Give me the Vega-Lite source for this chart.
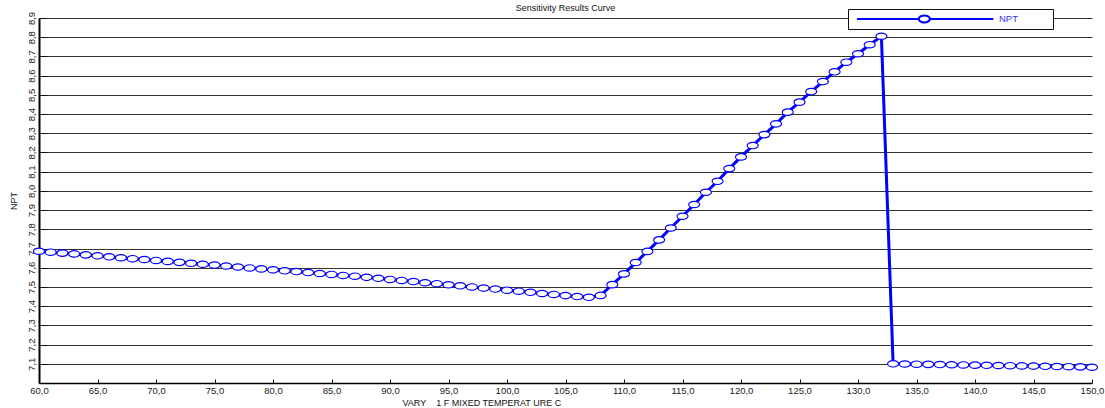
{
  "$schema": "https://vega.github.io/schema/vega-lite/v6.json",
  "width": 1053,
  "height": 365,
  "autosize": {"type": "none"},
  "padding": {"left": 39, "top": 18, "right": 13, "bottom": 25},
  "background": "white",
  "title": {
    "text": "Sensitivity Results Curve",
    "fontSize": 9,
    "fontWeight": "normal",
    "font": "Liberation Sans",
    "color": "#111",
    "anchor": "middle",
    "frame": "group",
    "baseline": "alphabetic",
    "offset": 0,
    "dy": 11
  },
  "config": {
    "font": "Liberation Sans",
    "view": {"stroke": null},
    "axis": {
      "labelFont": "Liberation Sans",
      "labelFontSize": 9.5,
      "labelColor": "#222",
      "titleFont": "Liberation Sans",
      "titleFontSize": 9,
      "titleFontWeight": "normal",
      "titleColor": "#111",
      "domainColor": "#000",
      "tickColor": "#111"
    },
    "legend": {"labelFont": "Liberation Sans"}
  },
  "data": {
    "values": [
      {"t": 60, "npt": 7.686, "series": "NPT"},
      {"t": 61, "npt": 7.681, "series": "NPT"},
      {"t": 62, "npt": 7.676, "series": "NPT"},
      {"t": 63, "npt": 7.672, "series": "NPT"},
      {"t": 64, "npt": 7.667, "series": "NPT"},
      {"t": 65, "npt": 7.662, "series": "NPT"},
      {"t": 66, "npt": 7.657, "series": "NPT"},
      {"t": 67, "npt": 7.652, "series": "NPT"},
      {"t": 68, "npt": 7.647, "series": "NPT"},
      {"t": 69, "npt": 7.643, "series": "NPT"},
      {"t": 70, "npt": 7.638, "series": "NPT"},
      {"t": 71, "npt": 7.633, "series": "NPT"},
      {"t": 72, "npt": 7.628, "series": "NPT"},
      {"t": 73, "npt": 7.623, "series": "NPT"},
      {"t": 74, "npt": 7.618, "series": "NPT"},
      {"t": 75, "npt": 7.614, "series": "NPT"},
      {"t": 76, "npt": 7.609, "series": "NPT"},
      {"t": 77, "npt": 7.604, "series": "NPT"},
      {"t": 78, "npt": 7.599, "series": "NPT"},
      {"t": 79, "npt": 7.594, "series": "NPT"},
      {"t": 80, "npt": 7.589, "series": "NPT"},
      {"t": 81, "npt": 7.584, "series": "NPT"},
      {"t": 82, "npt": 7.580, "series": "NPT"},
      {"t": 83, "npt": 7.575, "series": "NPT"},
      {"t": 84, "npt": 7.570, "series": "NPT"},
      {"t": 85, "npt": 7.565, "series": "NPT"},
      {"t": 86, "npt": 7.560, "series": "NPT"},
      {"t": 87, "npt": 7.556, "series": "NPT"},
      {"t": 88, "npt": 7.550, "series": "NPT"},
      {"t": 89, "npt": 7.545, "series": "NPT"},
      {"t": 90, "npt": 7.539, "series": "NPT"},
      {"t": 91, "npt": 7.534, "series": "NPT"},
      {"t": 92, "npt": 7.528, "series": "NPT"},
      {"t": 93, "npt": 7.522, "series": "NPT"},
      {"t": 94, "npt": 7.517, "series": "NPT"},
      {"t": 95, "npt": 7.511, "series": "NPT"},
      {"t": 96, "npt": 7.506, "series": "NPT"},
      {"t": 97, "npt": 7.500, "series": "NPT"},
      {"t": 98, "npt": 7.494, "series": "NPT"},
      {"t": 99, "npt": 7.489, "series": "NPT"},
      {"t": 100, "npt": 7.483, "series": "NPT"},
      {"t": 101, "npt": 7.478, "series": "NPT"},
      {"t": 102, "npt": 7.472, "series": "NPT"},
      {"t": 103, "npt": 7.466, "series": "NPT"},
      {"t": 104, "npt": 7.461, "series": "NPT"},
      {"t": 105, "npt": 7.455, "series": "NPT"},
      {"t": 106, "npt": 7.450, "series": "NPT"},
      {"t": 107, "npt": 7.446, "series": "NPT"},
      {"t": 108, "npt": 7.456, "series": "NPT"},
      {"t": 109, "npt": 7.512, "series": "NPT"},
      {"t": 110, "npt": 7.568, "series": "NPT"},
      {"t": 111, "npt": 7.627, "series": "NPT"},
      {"t": 112, "npt": 7.685, "series": "NPT"},
      {"t": 113, "npt": 7.745, "series": "NPT"},
      {"t": 114, "npt": 7.807, "series": "NPT"},
      {"t": 115, "npt": 7.868, "series": "NPT"},
      {"t": 116, "npt": 7.929, "series": "NPT"},
      {"t": 117, "npt": 7.993, "series": "NPT"},
      {"t": 118, "npt": 8.050, "series": "NPT"},
      {"t": 119, "npt": 8.116, "series": "NPT"},
      {"t": 120, "npt": 8.177, "series": "NPT"},
      {"t": 121, "npt": 8.236, "series": "NPT"},
      {"t": 122, "npt": 8.293, "series": "NPT"},
      {"t": 123, "npt": 8.349, "series": "NPT"},
      {"t": 124, "npt": 8.410, "series": "NPT"},
      {"t": 125, "npt": 8.462, "series": "NPT"},
      {"t": 126, "npt": 8.517, "series": "NPT"},
      {"t": 127, "npt": 8.569, "series": "NPT"},
      {"t": 128, "npt": 8.620, "series": "NPT"},
      {"t": 129, "npt": 8.670, "series": "NPT"},
      {"t": 130, "npt": 8.714, "series": "NPT"},
      {"t": 131, "npt": 8.761, "series": "NPT"},
      {"t": 132, "npt": 8.805, "series": "NPT"},
      {"t": 133, "npt": 7.100, "series": "NPT"},
      {"t": 134, "npt": 7.099, "series": "NPT"},
      {"t": 135, "npt": 7.098, "series": "NPT"},
      {"t": 136, "npt": 7.097, "series": "NPT"},
      {"t": 137, "npt": 7.096, "series": "NPT"},
      {"t": 138, "npt": 7.095, "series": "NPT"},
      {"t": 139, "npt": 7.094, "series": "NPT"},
      {"t": 140, "npt": 7.093, "series": "NPT"},
      {"t": 141, "npt": 7.092, "series": "NPT"},
      {"t": 142, "npt": 7.091, "series": "NPT"},
      {"t": 143, "npt": 7.090, "series": "NPT"},
      {"t": 144, "npt": 7.089, "series": "NPT"},
      {"t": 145, "npt": 7.088, "series": "NPT"},
      {"t": 146, "npt": 7.087, "series": "NPT"},
      {"t": 147, "npt": 7.086, "series": "NPT"},
      {"t": 148, "npt": 7.085, "series": "NPT"},
      {"t": 149, "npt": 7.084, "series": "NPT"},
      {"t": 150, "npt": 7.082, "series": "NPT"}
    ]
  },
  "encoding": {
    "x": {
      "field": "t",
      "type": "quantitative",
      "scale": {"domain": [60, 150], "nice": false, "zero": false},
      "axis": {
        "values": [60, 65, 70, 75, 80, 85, 90, 95, 100, 105, 110, 115, 120, 125, 130, 135, 140, 145, 150],
        "labelExpr": "replace(format(datum.value, '.1f'), '.', ',')",
        "grid": false,
        "domainWidth": 1.5,
        "tickSize": -4,
        "labelPadding": 6,
        "labelOverlap": false,
        "labelBound": false,
        "labelFlush": false,
        "title": "VARY\u00a0\u00a0\u00a0 1 F MIXED TEMPERAT URE C",
        "titleAnchor": "start",
        "titleAlign": "left",
        "titleX": 363,
        "titleY": 22,
        "titleBaseline": "alphabetic"
      }
    },
    "y": {
      "field": "npt",
      "type": "quantitative",
      "scale": {"domain": [7.0, 8.9], "nice": false, "zero": false},
      "axis": {
        "values": [7.1, 7.2, 7.3, 7.4, 7.5, 7.6, 7.7, 7.8, 7.9, 8.0, 8.1, 8.2, 8.3, 8.4, 8.5, 8.6, 8.7, 8.8, 8.9],
        "labelExpr": "replace(format(datum.value, '.1f'), '.', ',')",
        "labelAngle": -90,
        "labelAlign": "center",
        "labelBaseline": "bottom",
        "labelPadding": 11,
        "labelOverlap": false,
        "labelBound": false,
        "labelFlush": false,
        "grid": true,
        "gridColor": "#333",
        "gridWidth": 1,
        "domainWidth": 2,
        "tickSize": -8,
        "tickWidth": 1,
        "title": "NPT",
        "titlePadding": 8
      }
    }
  },
  "layer": [
    {
      "mark": {"type": "line", "strokeWidth": 3, "interpolate": "linear"},
      "encoding": {
        "color": {
          "field": "series",
          "type": "nominal",
          "scale": {"range": ["#0000ff"]},
          "legend": {
            "title": null,
            "orient": "none",
            "legendX": 809,
            "legendY": -9,
            "direction": "vertical",
            "fillColor": "white",
            "strokeColor": "#111",
            "padding": 2,
            "symbolType": "M -0.14 0 L 8.69 0 M 8.69 0 A 0.786 0.47 0 1 1 10.26 0 A 0.786 0.47 0 1 1 8.69 0 Z M 10.26 0 L 19.33 0 M 27 0",
            "symbolSize": 196,
            "symbolStrokeWidth": 2,
            "symbolStrokeColor": "#0000ff",
            "symbolFillColor": "white",
            "labelOffset": 133,
            "labelColor": "#3333ff",
            "labelFontSize": 9.5,
            "encode": {"symbols": {"update": {"fill": {"value": "white"}, "stroke": {"value": "#0000ff"}, "strokeWidth": {"value": 2}}}}
          }
        }
      }
    },
    {
      "mark": {
        "type": "point",
        "shape": "M -1 0 A 1 0.58 0 1 1 1 0 A 1 0.58 0 1 1 -1 0 Z",
        "size": 121,
        "filled": true,
        "fill": "white",
        "stroke": "#0000ff",
        "strokeWidth": 1.2,
        "opacity": 1
      }
    }
  ]
}
